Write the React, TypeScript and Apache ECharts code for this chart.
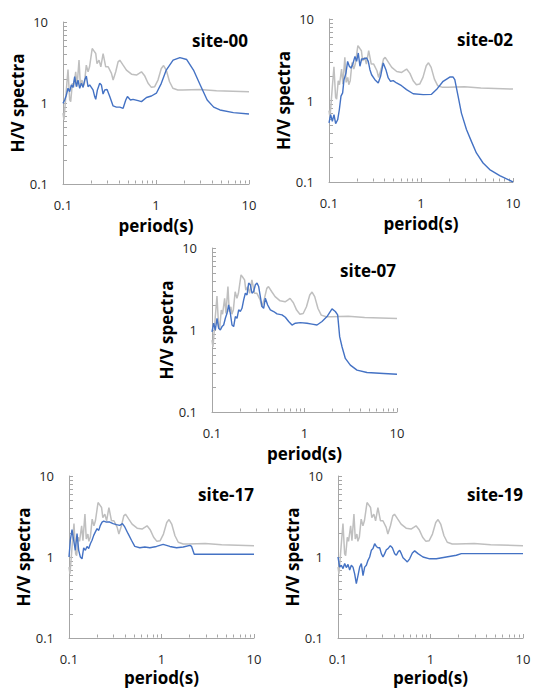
import React, { useEffect, useRef } from "react";
import * as echarts from "echarts";

// period (s) , H/V  — mean reference spectrum (grey, same in every panel)
const meanSpectrum: number[][] = [
  [0.1, 0.75], [0.1025, 0.62], [0.1086, 1.45], [0.1132, 2.59], [0.118, 1.09], [0.121, 1.04],
  [0.126, 1.75], [0.13, 1.56], [0.137, 2.43], [0.1415, 1.59], [0.1487, 3.38], [0.1537, 1.67],
  [0.16, 1.92], [0.164, 1.56], [0.17, 1.75], [0.178, 2.93], [0.186, 2.43], [0.193, 2.8],
  [0.206, 4.7], [0.215, 4.4], [0.225, 4.08], [0.232, 3.07], [0.244, 3.38], [0.255, 2.8],
  [0.27, 4.08], [0.288, 2.8], [0.306, 2.8], [0.332, 2.32], [0.346, 1.92], [0.369, 2.43],
  [0.391, 3.22], [0.408, 3.38], [0.443, 2.93], [0.481, 2.55], [0.545, 2.27], [0.617, 2.21],
  [0.658, 2.32], [0.698, 2.43], [0.758, 2.15], [0.822, 1.75], [0.892, 1.56], [0.968, 1.59],
  [1.05, 1.92], [1.14, 2.67], [1.207, 2.9], [1.289, 2.55], [1.399, 1.83], [1.518, 1.52],
  [1.717, 1.45], [1.943, 1.45], [2.97, 1.47], [4.47, 1.42], [10, 1.38],
];

const site00: number[][] = [
  [0.1, 0.99], [0.1042, 1.09], [0.1086, 1.25], [0.1132, 1.52], [0.118, 1.38], [0.1229, 1.67],
  [0.1281, 1.56], [0.1335, 2.11], [0.1392, 1.59], [0.145, 1.92], [0.1512, 1.52], [0.1576, 1.75],
  [0.1642, 1.56], [0.1712, 1.92], [0.1783, 2.15], [0.1858, 1.59], [0.1936, 1.67], [0.2018, 1.56],
  [0.2103, 1.45], [0.2192, 1.2], [0.2249, 1.11], [0.2344, 1.45], [0.2482, 1.75], [0.2587, 1.67],
  [0.2697, 1.29], [0.281, 1.45], [0.2977, 1.47], [0.3182, 1.2], [0.3457, 0.92], [0.3755, 0.89],
  [0.4079, 0.89], [0.4431, 0.86], [0.473, 1.09], [0.4931, 1.2], [0.5315, 1.09], [0.566, 1.11],
  [0.6418, 1.07], [0.6977, 1.04], [0.7899, 1.17], [0.8929, 1.22], [1.009, 1.32], [1.141, 1.75],
  [1.289, 2.55], [1.527, 3.38], [1.807, 3.64], [2.139, 3.44], [2.53, 2.55], [2.99, 1.67],
  [3.55, 1.09], [4.17, 0.89], [4.87, 0.82], [6.8, 0.76], [10, 0.73],
];

const site02: number[][] = [
  [0.1, 0.53], [0.1042, 0.67], [0.1087, 0.555], [0.1133, 0.67], [0.1181, 0.52], [0.1242, 0.58],
  [0.1295, 0.77], [0.135, 1.13], [0.1407, 1.24], [0.1455, 1.8], [0.1529, 2.17], [0.1594, 3.02],
  [0.1662, 2.63], [0.1733, 2.5], [0.1806, 2.75], [0.1915, 3.48], [0.1996, 3.02], [0.2081, 3.83],
  [0.2169, 2.63], [0.2262, 3.23], [0.2358, 3.23], [0.2563, 3.32], [0.2672, 3.02], [0.2786, 2.39],
  [0.2904, 2.07], [0.3156, 1.8], [0.343, 1.64], [0.3636, 1.98], [0.3886, 2.89], [0.4154, 2.39],
  [0.4404, 1.89], [0.4669, 1.72], [0.4989, 1.75], [0.5424, 1.64], [0.6145, 1.52], [0.6962, 1.36],
  [0.8222, 1.21], [1.056, 1.18], [1.3, 1.19], [1.473, 1.36], [1.74, 1.72], [2.055, 1.94],
  [2.234, 1.94], [2.33, 1.8], [2.53, 1.13], [2.75, 0.7], [3.12, 0.44], [3.53, 0.315],
  [4.0, 0.227], [4.73, 0.171], [5.58, 0.142], [7.17, 0.12], [10, 0.1],
];

const site07: number[][] = [
  [0.1, 0.95], [0.1042, 1.21], [0.1086, 1.0], [0.1133, 1.39], [0.1181, 1.05], [0.1231, 1.0],
  [0.1283, 1.1], [0.1337, 1.15], [0.1394, 1.39], [0.1453, 1.6], [0.1514, 2.02], [0.1578, 1.6],
  [0.1645, 1.15], [0.1715, 1.1], [0.1788, 1.46], [0.1864, 1.39], [0.1943, 1.76], [0.2025, 1.68],
  [0.211, 1.84], [0.22, 2.33], [0.2293, 2.81], [0.239, 2.68], [0.2491, 3.73], [0.2597, 3.56],
  [0.2706, 2.81], [0.2822, 2.95], [0.2941, 3.56], [0.3066, 3.73], [0.3196, 3.39], [0.3331, 2.56],
  [0.3471, 1.93], [0.3619, 1.84], [0.3772, 2.44], [0.3998, 2.02], [0.4272, 1.76], [0.4642, 1.68],
  [0.5044, 1.57], [0.5713, 1.53], [0.6207, 1.43], [0.6744, 1.27], [0.7327, 1.15], [0.7961, 1.21],
  [0.9016, 1.23], [1.064, 1.21], [1.205, 1.18], [1.365, 1.15], [1.546, 1.27], [1.751, 1.46],
  [1.983, 1.81], [2.154, 1.68], [2.283, 1.53], [2.4, 0.83], [2.544, 0.625], [2.763, 0.45],
  [3.13, 0.373], [3.695, 0.324], [4.74, 0.303], [7.17, 0.295], [10, 0.289],
];

const site17: number[][] = [
  [0.1, 1.0], [0.1034, 1.61], [0.1078, 2.18], [0.1123, 1.61], [0.1171, 1.21], [0.1221, 1.94],
  [0.1273, 1.21], [0.1327, 1.0], [0.1383, 0.95], [0.1441, 1.3], [0.1503, 1.21], [0.1566, 1.35],
  [0.1633, 1.27], [0.1702, 1.46], [0.1774, 1.61], [0.185, 1.85], [0.1929, 2.04], [0.201, 2.24],
  [0.2096, 2.13], [0.2185, 2.46], [0.2278, 2.7], [0.2374, 2.78], [0.2537, 2.7], [0.2757, 2.7],
  [0.2996, 2.58], [0.3256, 2.51], [0.3538, 2.46], [0.3781, 2.58], [0.4008, 2.35], [0.4355, 1.94],
  [0.4733, 1.61], [0.5143, 1.35], [0.5827, 1.3], [0.6601, 1.33], [0.7478, 1.3], [0.8829, 1.35],
  [1.042, 1.43], [1.231, 1.35], [1.454, 1.3], [1.717, 1.33], [2.027, 1.39], [2.114, 1.35],
  [2.258, 1.08], [10, 1.08],
];

const site19: number[][] = [
  [0.1, 1.0], [0.1042, 0.75], [0.1086, 0.79], [0.1133, 0.72], [0.1181, 0.83], [0.1231, 0.74],
  [0.1283, 0.81], [0.1337, 0.69], [0.1394, 0.79], [0.1453, 0.75], [0.1514, 0.62], [0.1578, 0.47],
  [0.1645, 0.59], [0.1715, 0.75], [0.1788, 0.83], [0.1864, 0.59], [0.1943, 0.75], [0.2025, 0.79],
  [0.211, 0.91], [0.22, 1.0], [0.2293, 1.21], [0.239, 1.27], [0.2491, 1.46], [0.2597, 1.35],
  [0.2706, 1.3], [0.2822, 1.3], [0.2941, 1.1], [0.3066, 1.0], [0.3196, 1.1], [0.3331, 1.23],
  [0.3471, 1.27], [0.368, 1.38], [0.3867, 1.3], [0.41, 1.1], [0.4272, 1.05], [0.4452, 1.15],
  [0.4642, 1.21], [0.4838, 1.1], [0.5044, 0.98], [0.5389, 0.91], [0.5617, 0.87], [0.5954, 0.95],
  [0.6364, 1.12], [0.6744, 1.19], [0.7327, 1.1], [0.8295, 1.0], [0.9795, 0.95], [1.157, 0.95],
  [1.483, 1.0], [1.903, 1.05], [2.154, 1.1], [2.245, 1.1], [10, 1.1],
];

const siteNames = ["site-00", "site-02", "site-07", "site-17", "site-19"];
const siteSeries = [site00, site02, site07, site17, site19];
const minorTickValues = [0.2, 0.3, 0.4, 0.5, 0.6, 0.7, 0.8, 0.9, 2, 3, 4, 5, 6, 7, 8, 9];

// layout of each panel (pixels)
const panels = [
  { left: 63, top: 22, width: 186, height: 162, tx: 248, ty: 40, xGap: 33 },
  { left: 329, top: 19, width: 184, height: 163, tx: 513, ty: 39, xGap: 33 },
  { left: 212, top: 248, width: 185, height: 164, tx: 396, ty: 270, xGap: 33 },
  { left: 69, top: 476, width: 185, height: 162, tx: 254, ty: 494, xGap: 31 },
  { left: 338, top: 476, width: 185, height: 162, tx: 523, ty: 494, xGap: 31 },
];

const FONT = "Open Sans";
const AXIS_COLOR = "#A6A6A6";
const fmt = (v: number) => String(parseFloat(Number(v).toPrecision(3)));

export default function App() {
  const ref = useRef<HTMLDivElement>(null);
  useEffect(() => {
    if (!ref.current) return;
    const chart = echarts.init(ref.current, undefined, { renderer: "svg" });

    const axisCommon = {
      type: "log" as const,
      logBase: 10,
      min: 0.1,
      max: 10,
      splitLine: { show: false },
      minorTick: { show: false },
      axisLine: { show: true, lineStyle: { color: AXIS_COLOR, width: 1 } },
      axisTick: { show: true, inside: true, length: 4, lineStyle: { color: AXIS_COLOR } },
      nameLocation: "middle" as const,
      nameTextStyle: { fontFamily: FONT, fontWeight: "bold" as const, fontSize: 17, color: "#000" },
    };

    const minorData: number[][] = [];
    minorTickValues.forEach((v) => {
      minorData.push([v, 0.1, 0]);
      minorData.push([0.1, v, 1]);
    });

    const series: any[] = [];
    panels.forEach((_, i) => {
      series.push({
        type: "line",
        xAxisIndex: i,
        yAxisIndex: i,
        data: meanSpectrum,
        showSymbol: false,
        symbol: "none",
        lineStyle: { color: "#BFBFBF", width: 1.5 },
        silent: true,
      });
      series.push({
        type: "line",
        xAxisIndex: i,
        yAxisIndex: i,
        data: siteSeries[i],
        showSymbol: false,
        symbol: "none",
        lineStyle: { color: "#4472C4", width: 1.4 },
        silent: true,
      });
      series.push({
        type: "custom",
        xAxisIndex: i,
        yAxisIndex: i,
        data: minorData,
        silent: true,
        renderItem: (params: any, api: any) => {
          const kind = api.value(2);
          const p = api.coord([api.value(0), api.value(1)]);
          const x = Math.round(p[0]) + 0.5;
          const y = Math.round(p[1]) - 0.5;
          if (kind === 0) {
            return {
              type: "line",
              shape: { x1: x, y1: y, x2: x, y2: y - 3 },
              style: { stroke: AXIS_COLOR, lineWidth: 1 },
            };
          }
          return {
            type: "line",
            shape: { x1: Math.round(p[0]) + 0.5, y1: Math.round(p[1]) + 0.5, x2: Math.round(p[0]) + 4, y2: Math.round(p[1]) + 0.5 },
            style: { stroke: AXIS_COLOR, lineWidth: 1 },
          };
        },
      });
    });

    chart.setOption({
      animation: false,
      backgroundColor: "#ffffff",
      textStyle: { fontFamily: FONT },
      grid: panels.map((p) => ({
        left: p.left,
        top: p.top,
        width: p.width,
        height: p.height,
        containLabel: false,
        outerBoundsMode: "none",
      })),
      xAxis: panels.map((p, i) => ({
        ...axisCommon,
        gridIndex: i,
        name: "period(s)",
        nameGap: p.xGap,
        axisLabel: { margin: 14, fontSize: 13, fontFamily: FONT, color: "#262626", formatter: fmt },
      })),
      yAxis: panels.map((_, i) => ({
        ...axisCommon,
        gridIndex: i,
        name: "H/V spectra",
        nameGap: 32,
        axisLabel: { margin: 15, fontSize: 13, fontFamily: FONT, color: "#262626", formatter: fmt },
      })),
      graphic: panels.map((p, i) => ({
        type: "text",
        x: p.tx,
        y: p.ty,
        silent: true,
        style: {
          text: siteNames[i],
          fontFamily: FONT,
          fontWeight: "bold",
          fontSize: 17,
          fill: "#000",
          align: "right",
          verticalAlign: "middle",
        },
      })),
      series,
    });

    return () => chart.dispose();
  }, []);

  return (
    <div
      ref={ref}
      style={{ position: "absolute", left: 0, top: 0, width: 537, height: 689, background: "#fff" }}
    />
  );
}
